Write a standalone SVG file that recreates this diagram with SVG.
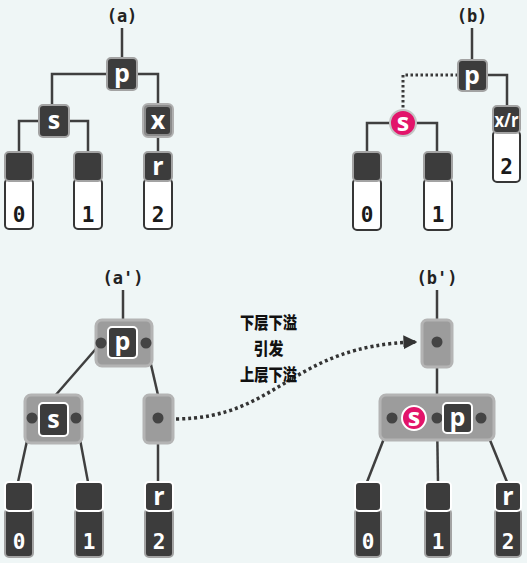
<svg xmlns="http://www.w3.org/2000/svg" width="527" height="563" viewBox="0 0 527 563">
<defs>
<style>
.bg{fill:#eff6f6}
.lbl{font-family:"DejaVu Sans Mono",monospace;font-weight:bold;font-size:17px;fill:#222;text-anchor:middle}
.dk{fill:#3c3c3c;stroke:#a3a3a3;stroke-width:2}
.dkw{fill:#3c3c3c;stroke:#ffffff;stroke-width:2}
.wh{fill:#ffffff;stroke:#363636;stroke-width:2}
.dkb{fill:#3c3c3c;stroke:#a3a3a3;stroke-width:2}
.gr{fill:#9c9c9c;stroke:#b4b4b4;stroke-width:3}
.ln{fill:none;stroke:#3f3f3f;stroke-width:2.5}
.dot{fill:none;stroke:#3a3a3a;stroke-width:3;stroke-dasharray:2.5 2.5}
.dot2{fill:none;stroke:#333;stroke-width:3.5;stroke-dasharray:3 3}
.pt{fill:#444}
.ltr{font-family:"Open Sans","DejaVu Sans",sans-serif;font-weight:bold;font-size:25px;fill:#fff;text-anchor:middle}
.dig{font-family:"DejaVu Sans Mono",monospace;font-weight:bold;font-size:21px;text-anchor:middle}
.dgb{fill:#1a1a1a}
.dgw{fill:#ffffff}
.pk{fill:#e2146a}
.cjk{font-family:"Noto Sans CJK SC",sans-serif;font-weight:900;font-size:17.5px;fill:#111;text-anchor:middle}
</style>
<marker id="ah" viewBox="0 0 10 10" refX="9" refY="5" markerWidth="4" markerHeight="4" orient="auto" markerUnits="strokeWidth">
<path d="M0,0 L10,5 L0,10 z" fill="#333"/>
</marker>
</defs>
<rect class="bg" x="0" y="0" width="527" height="563"/>

<g id="connectors">
<path class="ln" d="M122,28 V58"/>
<path class="ln" d="M107,74 H52 V105"/>
<path class="ln" d="M137,74 H158 V104"/>
<path class="ln" d="M39,121 H19 V152"/>
<path class="ln" d="M69,121 H88 V152"/>
<path class="ln" d="M158,137 V152"/>
<path class="ln" d="M472,28 V60"/>
<path class="dot" d="M458,75 H403 V110"/>
<path class="ln" d="M390,123 H367 V152"/>
<path class="ln" d="M416,123 H437 V152"/>
<path class="ln" d="M487,75 H507 V106"/>
<path class="ln" d="M123,290 V320"/>
<path class="ln" d="M101,343 L54,397"/>
<path class="ln" d="M146,343 L158,395"/>
<path class="ln" d="M32,418 L18,482"/>
<path class="ln" d="M76,418 L88,482"/>
<path class="ln" d="M158,418 V482"/>
<path class="ln" d="M437,290 V320"/>
<path class="ln" d="M437,342 V395"/>
<path class="ln" d="M392,418 L367,482"/>
<path class="ln" d="M437,418 L438,482"/>
<path class="ln" d="M481,418 L507,482"/>
<path class="dot2" d="M176,419 C280,418 290,345 416,342" marker-end="url(#ah)"/>
</g>

<text class="lbl" x="122" y="22">(a)</text>
<text class="lbl" x="472" y="22">(b)</text>
<text class="lbl" x="123" y="284">(a')</text>
<text class="lbl" x="437" y="284">(b')</text>

<!-- (a) -->
<g id="a-p"><rect class="dk" x="107" y="58" width="30" height="32" rx="4"/><text class="ltr" x="122" y="82">p</text></g>
<g id="a-s"><rect class="dk" x="39" y="105" width="30" height="32" rx="4"/><text class="ltr" x="54" y="129">s</text></g>
<g id="a-x"><rect x="143" y="104" width="30" height="33" rx="5" fill="#8a8a8a" stroke="#b0b0b0" stroke-width="2"/><rect x="146" y="107" width="24" height="27" rx="3" fill="#3c3c3c"/><text class="ltr" x="158" y="129">x</text></g>
<g id="a-leaf0"><rect class="wh" x="5" y="179" width="28" height="50" rx="4"/><rect class="dk" x="5" y="152" width="28" height="29" rx="4"/><text class="dig dgb" x="19" y="222">0</text></g>
<g id="a-leaf1"><rect class="wh" x="74" y="179" width="28" height="50" rx="4"/><rect class="dk" x="74" y="152" width="28" height="29" rx="4"/><text class="dig dgb" x="88" y="222">1</text></g>
<g id="a-leaf2"><rect class="wh" x="144" y="179" width="28" height="50" rx="4"/><rect class="dk" x="144" y="152" width="28" height="29" rx="4"/><text class="ltr" x="158" y="175">r</text><text class="dig dgb" x="158" y="222">2</text></g>

<!-- (b) -->
<g id="b-p"><rect class="dk" x="458" y="60" width="29" height="31" rx="4"/><text class="ltr" x="472" y="84">p</text></g>
<g id="b-s"><circle class="pk" cx="403" cy="123" r="13" stroke="#c4c4c4" stroke-width="2"/><text class="ltr" x="403" y="131">s</text></g>
<g id="b-xr"><rect class="wh" x="493" y="131" width="27" height="51" rx="4"/><rect class="dk" x="493" y="106" width="27" height="27" rx="4"/><text class="ltr" x="506.5" y="127" textLength="24" lengthAdjust="spacingAndGlyphs" style="font-size:20px">x/r</text><text class="dig dgb" x="506.5" y="174">2</text></g>
<g id="b-leaf0"><rect class="wh" x="353" y="179" width="28" height="51" rx="4"/><rect class="dk" x="353" y="152" width="28" height="29" rx="4"/><text class="dig dgb" x="367" y="222">0</text></g>
<g id="b-leaf1"><rect class="wh" x="424" y="179" width="28" height="51" rx="4"/><rect class="dk" x="424" y="152" width="28" height="29" rx="4"/><text class="dig dgb" x="438" y="222">1</text></g>

<!-- (a') -->
<g id="a2-p"><rect class="gr" x="96" y="320" width="56" height="46" rx="6"/><rect class="dkw" x="108" y="327" width="29" height="31" rx="4"/><text class="ltr" x="122.5" y="350">p</text><circle class="pt" cx="101" cy="343" r="5.5"/><circle class="pt" cx="146" cy="343" r="5.5"/></g>
<g id="a2-s"><rect class="gr" x="25" y="395" width="57" height="48" rx="6"/><rect class="dkw" x="39" y="403" width="29" height="33" rx="4"/><text class="ltr" x="53.5" y="428">s</text><circle class="pt" cx="32" cy="418" r="5.5"/><circle class="pt" cx="76" cy="418" r="5.5"/></g>
<g id="a2-x"><rect class="gr" x="144" y="395" width="29" height="48" rx="5"/><circle class="pt" cx="158" cy="418" r="5.5"/></g>
<g id="a2-leaf0"><rect class="dkb" x="5" y="509" width="28" height="48" rx="4"/><rect class="dkw" x="5" y="482" width="28" height="29" rx="4"/><text class="dig dgw" x="19" y="549">0</text></g>
<g id="a2-leaf1"><rect class="dkb" x="75" y="509" width="28" height="48" rx="4"/><rect class="dkw" x="75" y="482" width="28" height="29" rx="4"/><text class="dig dgw" x="89" y="549">1</text></g>
<g id="a2-leaf2"><rect class="dkb" x="145" y="509" width="28" height="48" rx="4"/><rect class="dkw" x="145" y="482" width="28" height="29" rx="4"/><text class="ltr" x="159" y="505">r</text><text class="dig dgw" x="159" y="549">2</text></g>

<!-- (b') -->
<g id="b2-top"><rect class="gr" x="422" y="320" width="30" height="47" rx="5"/><circle class="pt" cx="437" cy="342" r="5.5"/></g>
<g id="b2-sp"><rect class="gr" x="380" y="395" width="114" height="45" rx="6"/><circle class="pt" cx="392" cy="418" r="5.5"/><circle class="pt" cx="437" cy="418" r="5.5"/><circle class="pt" cx="481" cy="418" r="5.5"/><circle class="pk" cx="414" cy="418" r="12" stroke="#ffffff" stroke-width="2"/><text class="ltr" x="414" y="426">s</text><rect class="dkw" x="443" y="403" width="29" height="30" rx="4"/><text class="ltr" x="457.5" y="426">p</text></g>
<g id="b2-leaf0"><rect class="dkb" x="355" y="509" width="26" height="48" rx="4"/><rect class="dkw" x="355" y="482" width="26" height="29" rx="4"/><text class="dig dgw" x="368" y="549">0</text></g>
<g id="b2-leaf1"><rect class="dkb" x="425" y="509" width="26" height="48" rx="4"/><rect class="dkw" x="425" y="482" width="26" height="29" rx="4"/><text class="dig dgw" x="438" y="549">1</text></g>
<g id="b2-leaf2"><rect class="dkb" x="495" y="509" width="26" height="48" rx="4"/><rect class="dkw" x="495" y="482" width="26" height="29" rx="4"/><text class="ltr" x="508" y="505">r</text><text class="dig dgw" x="508" y="549">2</text></g>

<g id="note">
<text class="cjk" x="268.5" y="329" textLength="57" lengthAdjust="spacingAndGlyphs">下层下溢</text>
<text class="cjk" x="268.5" y="355" textLength="30" lengthAdjust="spacingAndGlyphs">引发</text>
<text class="cjk" x="268.5" y="381" textLength="57" lengthAdjust="spacingAndGlyphs">上层下溢</text>
</g>
</svg>
